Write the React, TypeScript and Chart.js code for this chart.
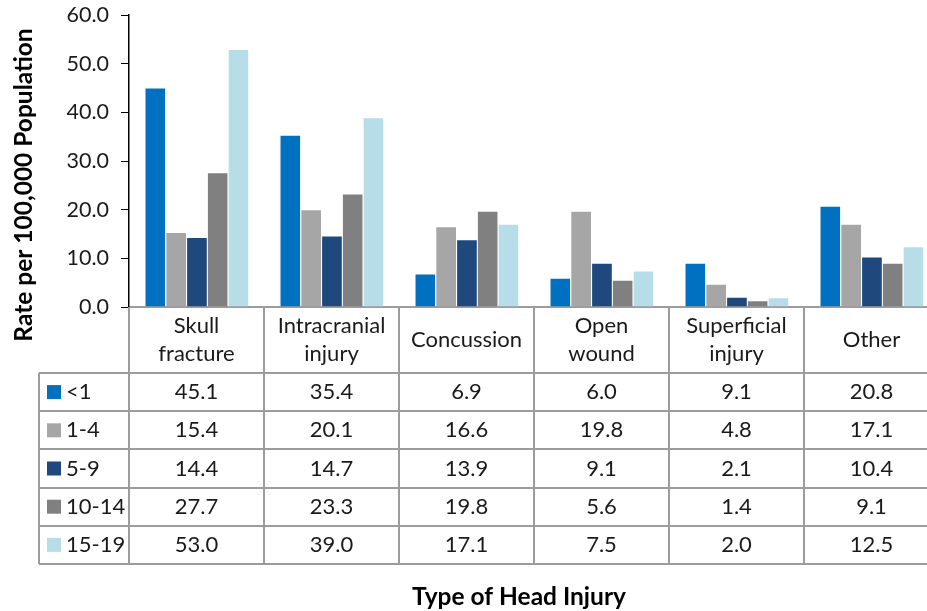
import React, { useEffect, useRef } from "react";
import { Chart, registerables } from "chart.js";

Chart.register(...registerables);

const categories: string[][] = [
  ["Skull", "fracture"],
  ["Intracranial", "injury"],
  ["Concussion"],
  ["Open", "wound"],
  ["Superficial", "injury"],
  ["Other"],
];
const seriesNames = ["<1", "1-4", "5-9", "10-14", "15-19"];
const ageUnder1 = [45.1, 35.4, 6.9, 6.0, 9.1, 20.8];
const age1to4 = [15.4, 20.1, 16.6, 19.8, 4.8, 17.1];
const age5to9 = [14.4, 14.7, 13.9, 9.1, 2.1, 10.4];
const age10to14 = [27.7, 23.3, 19.8, 5.6, 1.4, 9.1];
const age15to19 = [53.0, 39.0, 17.1, 7.5, 2.0, 12.5];
const seriesColors = ["#0070C0", "#A6A6A6", "#1F497D", "#808080", "#B7DEE8"];
const yTickValues = [0, 10, 20, 30, 40, 50, 60];
const yTitle = "Rate per 100,000 Population";
const xTitle = "Type of Head Injury";

const allSeries = [ageUnder1, age1to4, age5to9, age10to14, age15to19];

const FONT = "Lato, 'Open Sans', sans-serif";

const tablePlugin = {
  id: "dataTable",
  afterDraw(chart: any) {
    const { ctx, chartArea } = chart;
    const x = chart.scales.x;
    const n = categories.length;
    const cw = (chartArea.right - chartArea.left) / n;
    const top = chartArea.bottom;
    const headerBottom = top + 66;
    const rowH = 38.2;
    const legendLeft = 39;
    const tableBottom = headerBottom + rowH * seriesNames.length;
    ctx.save();
    ctx.strokeStyle = "#9c9c9c";
    ctx.lineWidth = 2;
    const line = (x1: number, y1: number, x2: number, y2: number) => {
      ctx.beginPath();
      ctx.moveTo(x1, y1);
      ctx.lineTo(x2, y2);
      ctx.stroke();
    };
    for (let i = 0; i <= n; i++) {
      const xx = Math.round(chartArea.left + i * cw);
      line(xx, top, xx, tableBottom);
    }
    line(legendLeft, headerBottom, legendLeft, tableBottom);
    for (let r = 0; r <= seriesNames.length; r++) {
      const yy = Math.round(headerBottom + r * rowH);
      line(legendLeft, yy, chartArea.right, yy);
    }
    // header labels
    ctx.fillStyle = "#1a1a1a";
    ctx.font = `22px ${FONT}`;
    ctx.textAlign = "center";
    ctx.textBaseline = "middle";
    const hc = (top + headerBottom) / 2;
    categories.forEach((lines, i) => {
      const cx = x.getPixelForValue(i);
      const lh = 28.5;
      lines.forEach((t, k) => {
        const yy = hc + (k - (lines.length - 1) / 2) * lh;
        ctx.fillText(t, cx, yy);
      });
    });
    // rows
    allSeries.forEach((vals, r) => {
      const cy = headerBottom + r * rowH + rowH / 2;
      ctx.fillStyle = seriesColors[r];
      ctx.fillRect(47, cy - 7, 14, 14);
      ctx.fillStyle = "#1a1a1a";
      ctx.textAlign = "left";
      ctx.fillText(seriesNames[r], 66, cy);
      ctx.textAlign = "center";
      vals.forEach((v, i) => {
        ctx.fillText(v.toFixed(1), x.getPixelForValue(i), cy);
      });
    });
    // axis titles
    ctx.font = `bold 24.5px ${FONT}`;
    ctx.fillStyle = "#000";
    ctx.textAlign = "center";
    ctx.fillText(xTitle, 519, 597);
    ctx.translate(24, 185);
    ctx.rotate(-Math.PI / 2);
    ctx.fillText(yTitle, 0, 0);
    ctx.restore();
  },
};

export default function App() {
  const ref = useRef<HTMLCanvasElement>(null);
  useEffect(() => {
    if (!ref.current) return;
    const chart = new Chart(ref.current, {
      type: "bar",
      data: {
        labels: categories.map((c) => c.join(" ")),
        datasets: allSeries.map((vals, i) => ({
          label: seriesNames[i],
          data: vals,
          backgroundColor: seriesColors[i],
          borderColor: "rgba(255,255,255,0.5)",
          borderWidth: { top: 1, left: 1, right: 0, bottom: 0 },
          borderSkipped: false,
          barPercentage: 1,
          categoryPercentage: 0.77,
        })),
      },
      options: {
        responsive: false,
        animation: false,
        layout: { padding: { left: 0, right: 1, top: 15, bottom: 304 } },
        plugins: { legend: { display: false }, tooltip: { enabled: false }, title: { display: false } },
        scales: {
          x: {
            ticks: { display: false },
            grid: { display: false, drawTicks: false },
            border: { display: true, color: "#9c9c9c", width: 2 },
            afterFit: (s: any) => {
              s.height = 0;
              s.paddingLeft = 0;
              s.paddingRight = 0;
            },
          },
          y: {
            min: 0,
            max: 60,
            afterBuildTicks: (s: any) => {
              s.ticks = yTickValues.map((v) => ({ value: v }));
            },
            ticks: {
              font: { family: FONT, size: 21.5 },
              color: "#1a1a1a",
              padding: 12,
              callback: (v: any) => Number(v).toFixed(1),
            },
            grid: { drawOnChartArea: false, drawTicks: true, tickLength: 8, color: "#000" },
            border: { display: true, color: "#000", width: 1.5 },
            afterFit: (s: any) => {
              s.width = 129;
              s.paddingTop = 0;
              s.paddingBottom = 0;
            },
          },
        },
      },
      plugins: [tablePlugin],
    });
    return () => chart.destroy();
  }, []);
  return (
    <div style={{ position: "fixed", left: 0, top: 0, width: 927, height: 611, overflow: "hidden", background: "#fff" }}>
      <canvas ref={ref} width={940} height={611} style={{ display: "block" }} />
    </div>
  );
}
